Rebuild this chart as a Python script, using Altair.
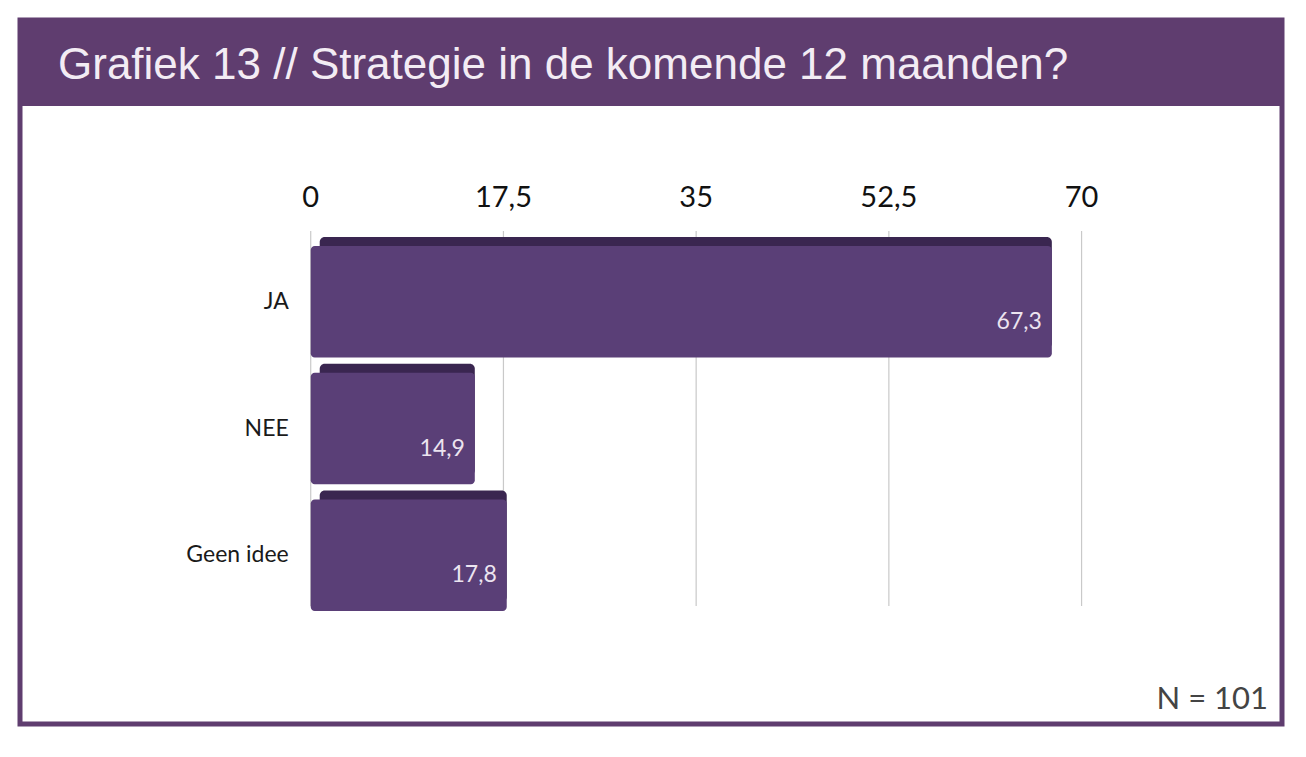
import altair as alt
import pandas as pd

title_text = ["Grafiek 13 // Strategie in de komende 12 maanden?"]
categories = ["JA", "NEE", "Geen idee"]
values = [67.3, 14.9, 17.8]
value_labels = ["67,3", "14,9", "17,8"]
ticks = [0, 17.5, 35, 52.5, 70]
tick_labels = ["0", "17,5", "35", "52,5", "70"]
note = ["N = 101"]

PURPLE = "#5f3d6f"
BAR = "#5a3f77"
BAR_DARK = "#3a2650"
W = 1262
H = 704
HB = 86  # header band height

bars_df = pd.DataFrame({"cat": categories, "val": values, "lab": value_labels, "zero": [0] * 3})
ticks_df = pd.DataFrame({"t": ticks, "lab": tick_labels})

xs = alt.Scale(domain=[-26.4, 88.2], nice=False, zero=False)
ys = alt.Scale(domain=categories, range=[HB + 140, HB + 505], paddingInner=0.12, paddingOuter=0)

header_bg = alt.Chart(pd.DataFrame({"t": title_text})).mark_rect(color=PURPLE).encode(
    x=alt.value(0), x2=alt.value(W), y=alt.value(0), y2=alt.value(HB)
)
header_txt = alt.Chart(pd.DataFrame({"t": title_text})).mark_text(
    align="left", baseline="middle", font="Liberation Sans", fontSize=44, color="#f3ecf4"
).encode(x=alt.value(38), y=alt.value(46), text="t:N")

grid = alt.Chart(ticks_df).mark_rule(color="#c9c9c9", strokeWidth=1.2).encode(
    x=alt.X("t:Q", scale=xs, axis=None), y=alt.value(HB + 125), y2=alt.value(HB + 500)
)
tick_txt = alt.Chart(ticks_df).mark_text(
    font="Lato", fontSize=29, color="#111111", baseline="middle"
).encode(x=alt.X("t:Q", scale=xs, axis=None), y=alt.value(HB + 92), text="lab:N")

bars_back = alt.Chart(bars_df).mark_bar(color=BAR_DARK, cornerRadius=5, xOffset=9, yOffset=-9).encode(
    x=alt.X("zero:Q", scale=xs, axis=None),
    x2="val:Q",
    y=alt.Y("cat:N", scale=ys, axis=None, sort=categories),
)
bars = alt.Chart(bars_df).mark_bar(color=BAR, cornerRadius=4).encode(
    x=alt.X("zero:Q", scale=xs, axis=None),
    x2="val:Q",
    y=alt.Y("cat:N", scale=ys, axis=None, sort=categories),
)
bar_lab = alt.Chart(bars_df).mark_text(
    align="right", baseline="middle", dx=-10, dy=20, font="Lato", fontSize=23, color="#ece4f0"
).encode(
    x=alt.X("val:Q", scale=xs, axis=None),
    y=alt.Y("cat:N", scale=ys, axis=None, sort=categories),
    text="lab:N",
)
cat_lab = alt.Chart(bars_df).mark_text(
    align="right", baseline="middle", dx=-22, font="Lato", fontSize=23, color="#1a1a1a"
).encode(
    x=alt.X("zero:Q", scale=xs, axis=None),
    y=alt.Y("cat:N", scale=ys, axis=None, sort=categories),
    text="cat:N",
)
note_txt = alt.Chart(pd.DataFrame({"t": note})).mark_text(
    align="right", baseline="bottom", font="Lato", fontSize=31, color="#444444"
).encode(x=alt.value(W - 14), y=alt.value(H - 8), text="t:N")

chart = alt.layer(
    header_bg, header_txt, grid, tick_txt, bars_back, bars, bar_lab, cat_lab, note_txt
).properties(
    width=W, height=H,
    padding={"left": 12, "top": 12, "right": 12, "bottom": 12},
    background="white",
).configure_view(stroke=PURPLE, strokeWidth=5)

chart.save("out.html", embed_options={"renderer": "svg", "actions": False})
